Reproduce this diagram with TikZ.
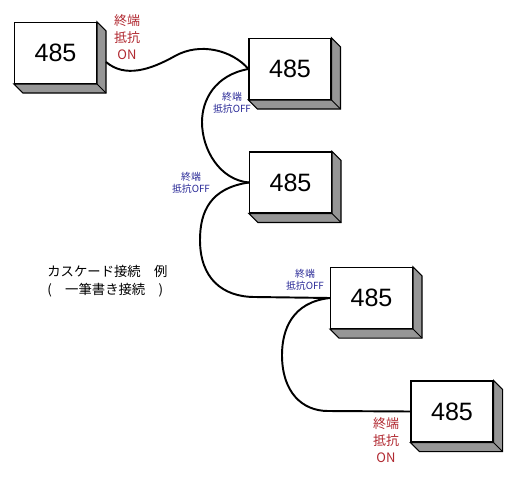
\documentclass[tikz,border=0pt]{standalone}
\usepackage{fontspec}
\setmainfont{Liberation Sans}
\newfontfamily\cjk{Noto Sans CJK JP}
\definecolor{onred}{RGB}{176,40,48}
\definecolor{offblue}{RGB}{40,40,150}
\definecolor{shade}{RGB}{150,150,150}

\tikzset{
  unit/.style={draw=black, fill=white, line width=0.6pt, minimum width=1.64cm, minimum height=1.22cm, inner sep=0pt, font=\fontsize{14.3}{16}\selectfont},
  onlabel/.style={text=onred, align=center, font=\cjk\fontsize{7.4}{9.6}\selectfont},
  offlabel/.style={text=offblue, align=center, font=\cjk\fontsize{5.6}{6.6}\selectfont},
  cable/.style={line width=1.1pt},
}
% gray side and bottom of a box
\newcommand{\boxside}[1]{%
  \filldraw[draw=black, fill=shade, line width=0.6pt] (#1.north east) -- ([shift={(9,9)}]#1.north east) -- ([shift={(9,9)}]#1.south east) -- ([shift={(9,9)}]#1.south west) -- (#1.south west) -- (#1.south east) -- cycle;
  \draw[line width=0.6pt] (#1.south east) -- ([shift={(9,9)}]#1.south east);
}

\begin{document}
\begin{tikzpicture}[x=0.02cm, y=-0.02cm]
\useasboundingbox (0,0) rectangle (520,480);
\node[unit] (b1) at (55.5,53) {485};
\node[unit] (b2) at (290,69) {485};
\node[unit] (b3) at (290.5,182.5) {485};
\node[unit] (b4) at (371.5,298) {485};
\node[unit] (b5) at (452,411.5) {485};
\foreach \b in {b1,b2,b3,b4,b5} {\boxside{\b}}
\coordinate (b1out) at ([shift={(9,9)}]b1.east);
% cables
\draw[cable] (b1out) .. controls (125,78) and (150,70) .. (175,56) .. controls (200,42) and (232,50) .. (b2.west);
\draw[cable] (b2.west) .. controls (215,75) and (202,100) .. (202,122) .. controls (202,150) and (220,180) .. (b3.west);
\draw[cable] (b3.west) .. controls (210,188) and (200,212) .. (200,240) .. controls (200,278) and (222,297) .. (255,297) -- (b4.west);
\draw[cable] (b4.west) .. controls (292,302) and (282,330) .. (282,355) .. controls (282,392) and (302,411) .. (328,411) -- (b5.west);
% labels
\node[onlabel] (t1) at (127,37) {終端\\抵抗\\ON};
\node[offlabel] (t2) at (232,102.5) {終端\\抵抗OFF};
\node[offlabel] (t3) at (191,183) {終端\\抵抗OFF};
\node[offlabel] (t4) at (305,280) {終端\\抵抗OFF};
\node[onlabel] (t5) at (386,440) {終端\\抵抗\\ON};
\node[align=left, anchor=west, inner sep=0pt, font=\cjk\fontsize{7.6}{10.2}\selectfont] (cap) at (47,281) {カスケード接続　例\\(　一筆書き接続　)};
\end{tikzpicture}
\end{document}
